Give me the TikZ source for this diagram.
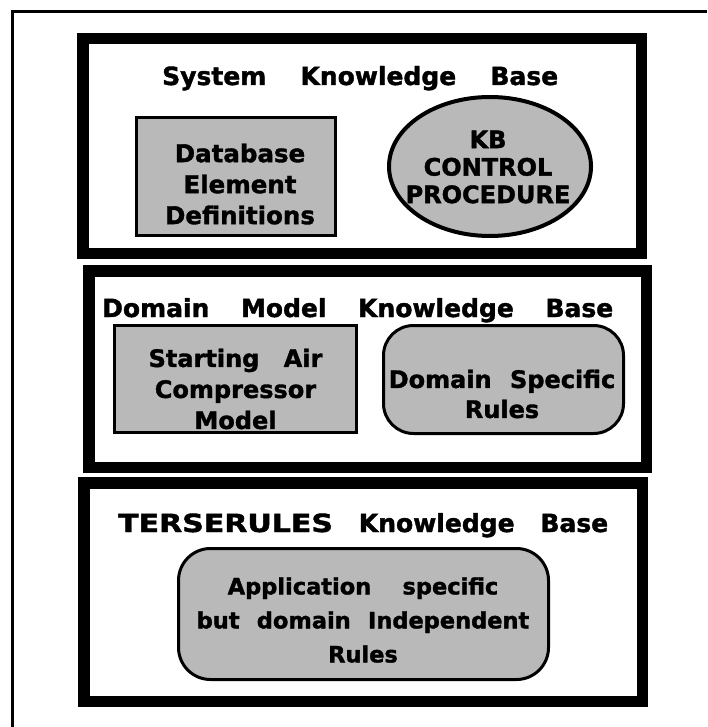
\documentclass[tikz,border=0pt]{standalone}
\usepackage{fontspec}
\setmainfont{DejaVu Sans}[WordSpace=2.2, BoldFeatures={FakeBold=1.5}]
\usetikzlibrary{shapes.geometric}
\definecolor{halftone}{RGB}{185,185,185}
\begin{document}
\begin{tikzpicture}[x=1pt,y=-1pt,
  kbbox/.style={draw, rectangle, line width=11.5pt, fill=white, inner sep=0pt},
  shadedbox/.style={draw, line width=3pt, fill=halftone, inner sep=0pt},
  titletext/.style={font=\bfseries\fontsize{25}{29}\selectfont, inner sep=0pt, anchor=base west},
  boxtext/.style={font=\bfseries\fontsize{24}{31}\selectfont, align=center, inner sep=0pt},
  frameline/.style={line width=3pt}]
\useasboundingbox (0,0) rectangle (707,727);
% outer frame (cropped)
\draw[frameline] (12,727) -- (12,12) -- (707,12);

% System Knowledge Base
\node[kbbox, minimum width=558.5pt, minimum height=214.5pt] (sys) at (362,146) {};
\node[titletext] (systitle) at (162,85) {\makebox[396pt][l]{System\hfill Knowledge\hfill Base}};
\node[shadedbox, rectangle, minimum width=199pt, minimum height=118pt] (db) at (236,176.5) {};
\node[boxtext, font=\bfseries\fontsize{24.5}{31}\selectfont] (dbtext) at (240,184) {Database\\Element\\Definitions};
\node[shadedbox, ellipse, line width=4pt, minimum width=202pt, minimum height=139pt] (kb) at (490,166.5) {};
\node[boxtext, font=\bfseries\fontsize{24}{27.5}\selectfont] (kbtext) at (488,167) {KB\\CONTROL\\PROCEDURE};

% Domain Model Knowledge Base
\node[kbbox, minimum width=557.5pt, minimum height=196.5pt] (dom) at (367.5,369) {};
\node[titletext] (domtitle) at (102,317) {\makebox[511pt][l]{Domain\hfill Model\hfill Knowledge\hfill Base}};
\node[shadedbox, rectangle, minimum width=242pt, minimum height=107pt] (sac) at (235.5,379) {};
\node[boxtext] (sactext) at (235.5,389) {Starting\hspace{6pt} Air\\Compressor\\Model};
\node[shadedbox, rectangle, rounded corners=30pt, minimum width=240pt, minimum height=108pt] (dsr) at (503.5,379.5) {};
\node[boxtext, font=\bfseries\fontsize{24}{30}\selectfont] (dsrtext) at (502,394) {Domain Specific\\Rules};

% TERSERULES Knowledge Base
\node[kbbox, minimum width=558.5pt, minimum height=218.5pt] (ter) at (363,592) {};
\node[titletext] (tertitle) at (118,532) {\makebox[490pt][l]{\scalebox{1.2}[1]{TERSERULES}\hfill Knowledge\hfill Base}};
\node[shadedbox, rectangle, rounded corners=32pt, minimum width=370pt, minimum height=131pt] (app) at (363.5,614) {};
\node[boxtext, font=\bfseries\fontsize{22.5}{34}\selectfont] (apptext) at (363,620) {Application\hspace{14pt} specific\\but domain Independent\\Rules};
\end{tikzpicture}
\end{document}
